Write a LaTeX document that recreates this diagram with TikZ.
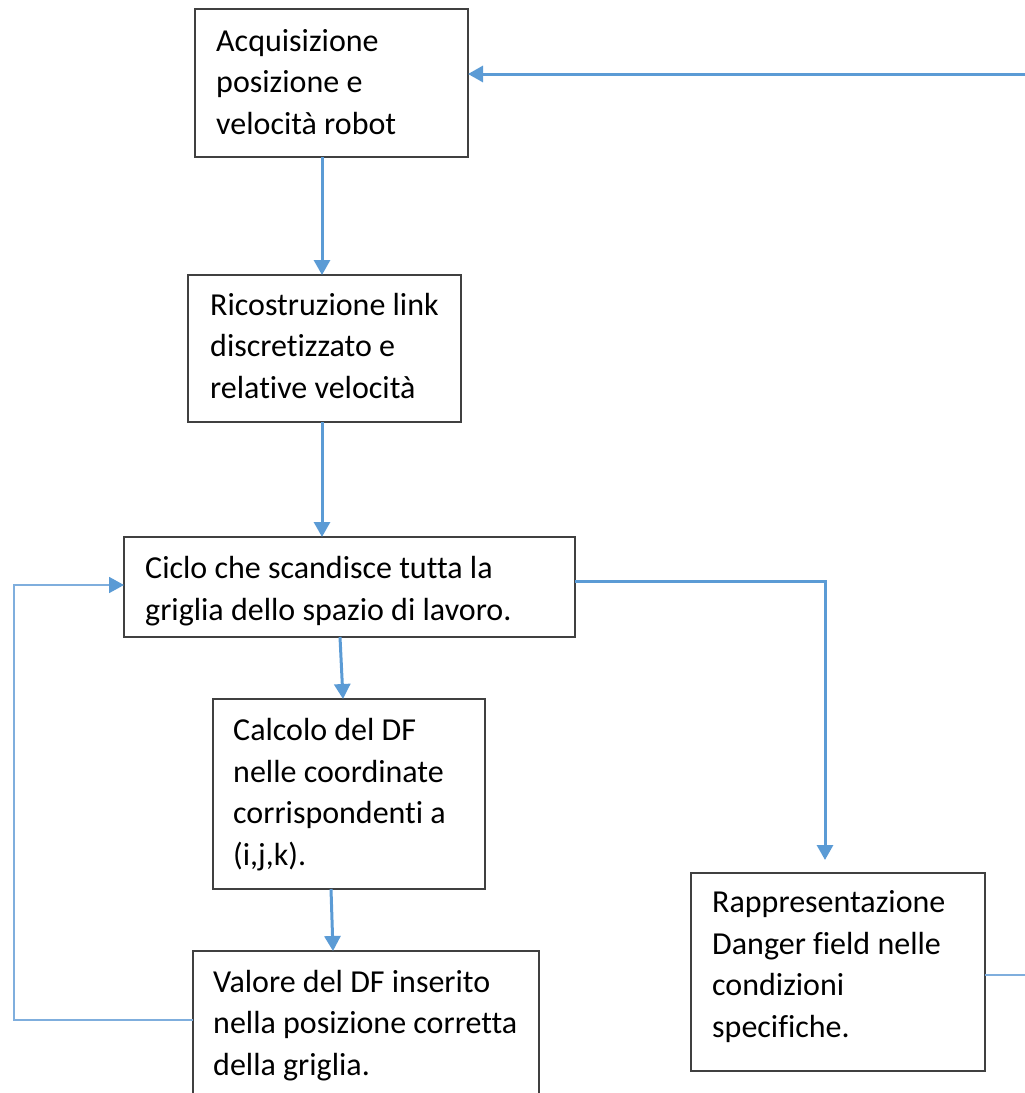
\documentclass[tikz,border=0pt]{standalone}
\usepackage{fontspec}
\setmainfont{Carlito}[Ligatures=NoCommon]
\usetikzlibrary{arrows.meta,calc}
\definecolor{flowblue}{HTML}{5B9BD5}
\definecolor{thinblue}{HTML}{7FAEDD}
\definecolor{boxgray}{HTML}{404040}
\begin{document}
\begin{tikzpicture}[x=1pt,y=-1pt,
  stepbox/.style={draw=boxgray, line width=1.8pt, fill=white, anchor=north west,
    inner sep=0pt, outer sep=0pt},
  % anchored at the baseline of the last line
  boxtext/.style={align=left, inner sep=0pt, anchor=base west,
    font=\fontsize{32}{41.5}\selectfont},
  flow/.style={draw=flowblue, line width=3pt, -{Triangle[length=15pt,width=16pt]}},
  thinflow/.style={draw=thinblue, line width=1.8pt},
]
\useasboundingbox (0,0) rectangle (1025,1093);

% boxes
\node[stepbox, minimum width=273pt, minimum height=148pt] (acq) at (195,9) {};
\node[stepbox, minimum width=273pt, minimum height=147pt] (ric) at (188,275) {};
\node[stepbox, minimum width=451pt, minimum height=100pt] (cic) at (124,537) {};
\node[stepbox, minimum width=272pt, minimum height=190pt] (df) at (213,699) {};
\node[stepbox, minimum width=346pt, minimum height=170pt] (val) at (193,951) {};
\node[stepbox, minimum width=294pt, minimum height=198pt] (rap) at (691,873) {};

% texts
\node[boxtext] (acqT) at (216,134) {Acquisizione\\posizione e\\velocità robot};
\node[boxtext] (ricT) at (210,398) {Ricostruzione link\\discretizzato e\\relative velocità};
\node[boxtext] (cicT) at (145,620) {Ciclo che scandisce tutta la\\griglia dello spazio di lavoro.};
\node[boxtext] (dfT) at (233,865) {Calcolo del DF\\nelle coordinate\\corrispondenti a\\(i,j,k).};
\node[boxtext] (valT) at (213,1075) {Valore del DF inserito\\nella posizione corretta\\della griglia.};
\node[boxtext] (rapT) at (712,1037) {Rappresentazione\\Danger field nelle\\condizioni\\specifiche.};

% free ends at the right border
\coordinate (feedR) at (1030,74);

% connectors
\draw[flow] (feedR) -- (feedR -| acq.east);
\draw[flow] ([xshift=-9.5pt]acq.south) -- ([xshift=-2.5pt]ric.north);
\draw[flow] ([xshift=-2.5pt]ric.south) -- ([xshift=-27.5pt]cic.north);
\draw[flow] ([xshift=-9.5pt]cic.south) -- ([xshift=-6pt]df.north);
\draw[flow] ([xshift=-18pt]df.south) -- ([xshift=-33pt]val.north);
\draw[flow] ([yshift=6pt]cic.east) -| ([xshift=-13pt,yshift=13pt]rap.north);
\draw[thinflow, -{Triangle[length=15pt,width=16pt,color=flowblue]}]
  ([yshift=-69pt]val.north west) -- ++(-179,0) |- ([yshift=2pt]cic.west);
\draw[thinflow] ([yshift=-3pt]rap.east) -- ++(50,0) coordinate (outR);
\end{tikzpicture}
\end{document}
